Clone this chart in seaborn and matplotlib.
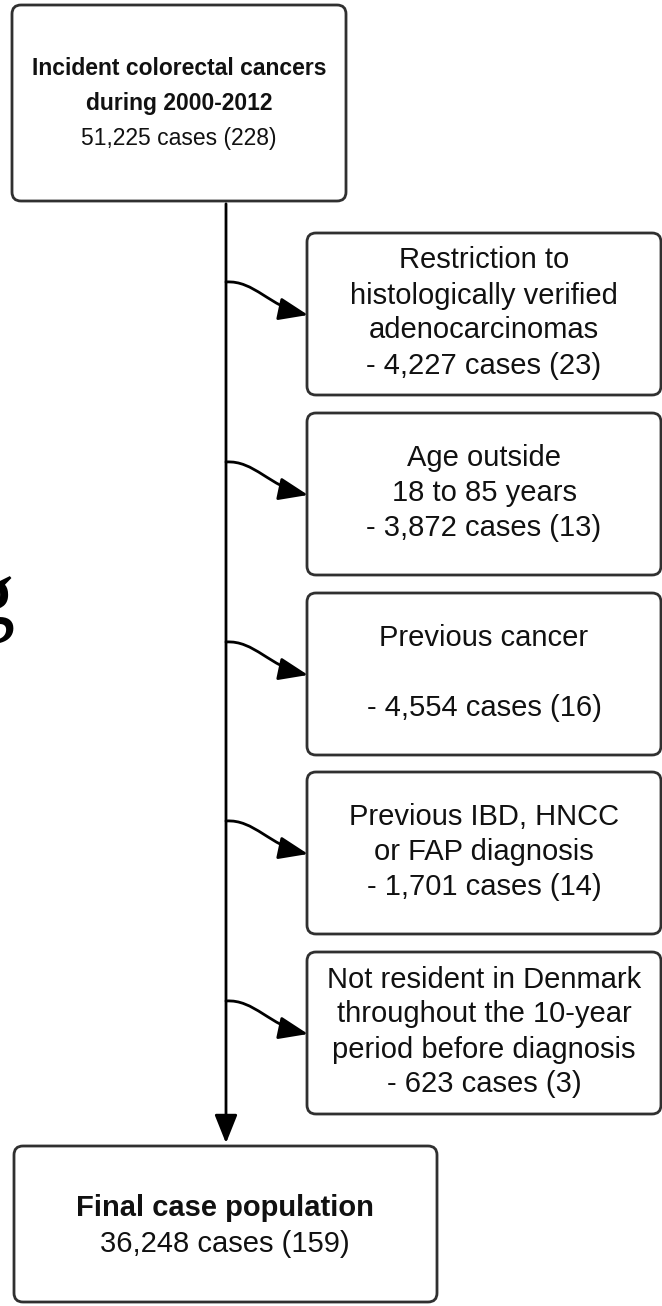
import matplotlib
matplotlib.use("Agg")
import matplotlib.pyplot as plt
import seaborn as sns
from matplotlib.patches import FancyBboxPatch, FancyArrowPatch, ArrowStyle
from matplotlib.path import Path

# Flowchart content
start_title = ["Incident colorectal cancers", "during 2000-2012"]
start_cases = 51225
start_clusters = 228

exclusion_reasons = [
    ["Restriction to", "histologically verified", "adenocarcinomas"],
    ["Age outside", "18 to 85 years"],
    ["Previous cancer", ""],
    ["Previous IBD, HNCC", "or FAP diagnosis"],
    ["Not resident in Denmark", "throughout the 10-year", "period before diagnosis"],
]
excluded_cases = [4227, 3872, 4554, 1701, 623]
excluded_clusters = [23, 13, 16, 14, 3]

final_title = "Final case population"
final_cases = 36248
final_clusters = 159

sns.set_style("white")
plt.rcParams['font.family'] = ['Liberation Sans', 'DejaVu Sans']

fig = plt.figure(figsize=(6.62, 13.06), dpi=100)
ax = fig.add_axes([0, 0, 1, 1])
ax.set_xlim(0, 662)
ax.set_ylim(1306, 0)
ax.axis('off')

edge = '#303030'
line_step = 35
main_x = 226


def draw_box(x0, y0, x1, y1):
    ax.add_patch(FancyBboxPatch((x0, y0), x1 - x0, y1 - y0,
                                boxstyle="round,pad=0,rounding_size=9",
                                fc='white', ec=edge, lw=2, zorder=2))


def draw_lines(cx, cy, lines, size, weights):
    n = len(lines)
    first = cy - (n - 1) * line_step / 2 + 10
    for k, (txt, w) in enumerate(zip(lines, weights)):
        ax.text(cx, first + k * line_step, txt, ha='center', va='baseline',
                fontsize=size, fontweight=w, color='#111111', zorder=3)


# top box
draw_box(12, 5, 346, 201)
top_lines = start_title + [f"{start_cases:,} cases ({start_clusters})"]
draw_lines(179, 100, top_lines, 16.5, ['bold', 'bold', 'normal'])

# main vertical arrow
ax.add_patch(FancyArrowPatch((main_x, 201), (main_x, 1146),
                             arrowstyle=ArrowStyle('-|>', head_length=1.75, head_width=0.7),
                             mutation_scale=10, lw=2, color='black', zorder=1))

# exclusion boxes
side_tops = [233, 413, 593, 772, 952]
for i, top in enumerate(side_tops):
    bottom = top + 162
    draw_box(307, top, 661, bottom)
    lines = exclusion_reasons[i] + [f"- {excluded_cases[i]:,} cases ({excluded_clusters[i]})"]
    draw_lines(484, (top + bottom) / 2 - 3, lines, 21, ['normal'] * len(lines))

    y0 = top + 49
    y1 = top + 82
    verts = [(main_x, y0), (254, y0 - 2), (270, y1 - 8), (308, y1)]
    codes = [Path.MOVETO, Path.CURVE4, Path.CURVE4, Path.CURVE4]
    ax.add_patch(FancyArrowPatch(path=Path(verts, codes),
                                 arrowstyle=ArrowStyle('-|>', head_length=1.8, head_width=0.7),
                                 mutation_scale=10, lw=2, color='black', zorder=1))

# final box
draw_box(14, 1146, 437, 1302)
draw_lines(225, 1224, [final_title, f"{final_cases:,} cases ({final_clusters})"],
           21, ['bold', 'normal'])

# stray glyph on the left margin
ax.text(15, 624, 'g', family='Liberation Serif', fontsize=68,
        ha='right', va='baseline', color='black')

fig.savefig('out.png', dpi=100, facecolor='white')
